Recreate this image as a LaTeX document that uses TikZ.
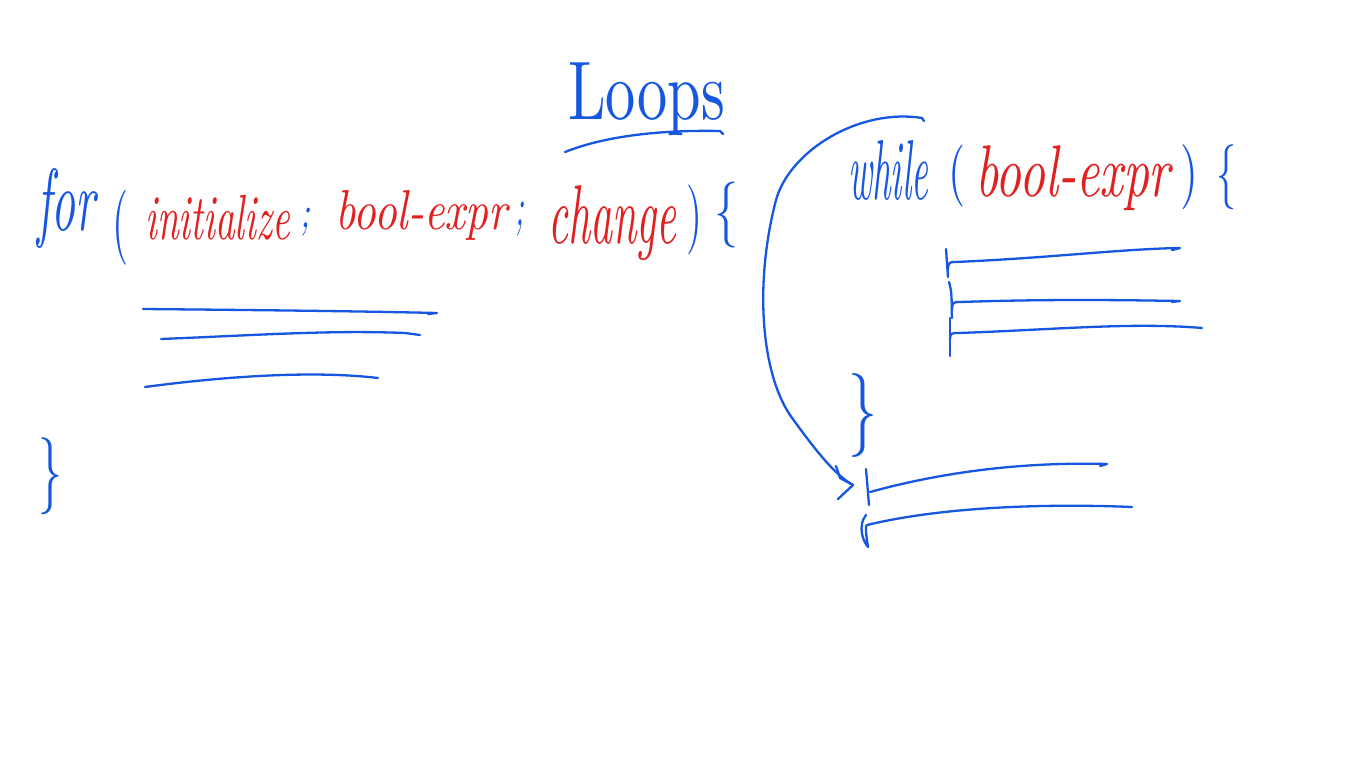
\documentclass[tikz,border=0pt]{standalone}
\usepackage{graphicx}
\definecolor{penblue}{RGB}{22,86,224}
\definecolor{penred}{RGB}{226,32,32}
\newcommand{\hwbox}[3]{\resizebox*{#1pt}{#2pt}{\itshape #3}}
\tikzset{
  pen/.style={draw=penblue, line width=2.3pt, line cap=round, line join=round},
  btxt/.style={anchor=north west, inner sep=0pt, text=penblue},
  rtxt/.style={anchor=north west, inner sep=0pt, text=penred},
}
\begin{document}
\begin{tikzpicture}[x=1pt,y=-1pt]
\useasboundingbox[fill=white] (0,0) rectangle (1366,768);

% Title
\node[btxt] (title) at (568,62) {\hwbox{157}{73}{\upshape Loops}};
\draw[pen] (565,152) .. controls (610,134) and (670,130) .. (720,131) -- (723,134);

% for statement
\node[btxt] (for) at (37,168) {\hwbox{58}{80}{for}};
\node[btxt] (lp1) at (112,190) {\hwbox{16}{75}{\upshape (}};
\node[rtxt] (init) at (145,195) {\hwbox{145}{45}{initialize}};
\node[btxt] (sc1) at (300,208) {\hwbox{10}{28}{;}};
\node[rtxt] (bool1) at (335,190) {\hwbox{172}{50}{bool-expr}};
\node[btxt] (sc2) at (515,202) {\hwbox{9}{34}{;}};
\node[rtxt] (change) at (548,185) {\hwbox{128}{75}{change}};
\node[btxt] (rp1) at (686,185) {\hwbox{16}{70}{\upshape )}};
\node[btxt] (lb1) at (714,182) {\hwbox{24}{66}{\upshape\{}};

% for body lines
\draw[pen] (143,309) .. controls (250,310) and (350,311) .. (437,313) -- (428,314);
\draw[pen] (161,339) .. controls (260,335) and (330,330) .. (405,333) -- (420,335);
\draw[pen] (145,387) .. controls (220,377) and (310,370) .. (378,378);

\node[btxt] (rb1) at (38,438) {\hwbox{24}{77}{\upshape\}}};

% while statement
\node[btxt] (while) at (848,140) {\hwbox{80}{60}{while}};
\node[btxt] (lp2) at (948,145) {\hwbox{17}{62}{\upshape (}};
\node[rtxt] (bool2) at (975,145) {\hwbox{195}{65}{bool-expr}};
\node[btxt] (rp2) at (1180,145) {\hwbox{18}{65}{\upshape )}};
\node[btxt] (lb2) at (1216,145) {\hwbox{20}{65}{\upshape\{}};

% while body lines
\draw[pen] (946,249) -- (948,277);
\draw[pen] (948,270) .. controls (948,262) and (950,262) .. (955,262)
  .. controls (1050,258) and (1120,249) .. (1180,248) -- (1172,250);
\draw[pen] (949,282) .. controls (953,295) and (951,305) .. (952,318);
\draw[pen] (952,310) .. controls (952,302) and (954,302) .. (960,302)
  .. controls (1050,299) and (1120,300) .. (1180,301) -- (1172,302);
\draw[pen] (950,318) -- (950,356);
\draw[pen] (950,340) .. controls (950,333) and (952,333) .. (958,333)
  .. controls (1050,330) and (1130,322) .. (1202,328);

\node[btxt] (rb2) at (848,373) {\hwbox{29}{84}{\upshape\}}};

% statements after the loop
\draw[pen] (866,469) -- (869,505);
\draw[pen] (870,492) .. controls (950,470) and (1030,462) .. (1107,464) -- (1100,466);
\draw[pen] (866,515) .. controls (858,525) and (862,540) .. (868,547) .. controls (866,535) and (865,525) .. (867,525)
  .. controls (950,505) and (1060,504) .. (1132,507);

% loop-back arrow
\coordinate (arcstart) at (924,121);
\coordinate (arctip) at (853,485);
\draw[pen] (arcstart) -- (922,118) .. controls (860,108) and (790,150) .. (776,200)
  .. controls (755,280) and (760,370) .. (790,415)
  .. controls (815,450) and (835,475) .. (arctip);
\draw[pen] (836,466) -- (840,478) -- (arctip) -- (838,499);

\end{tikzpicture}
\end{document}
